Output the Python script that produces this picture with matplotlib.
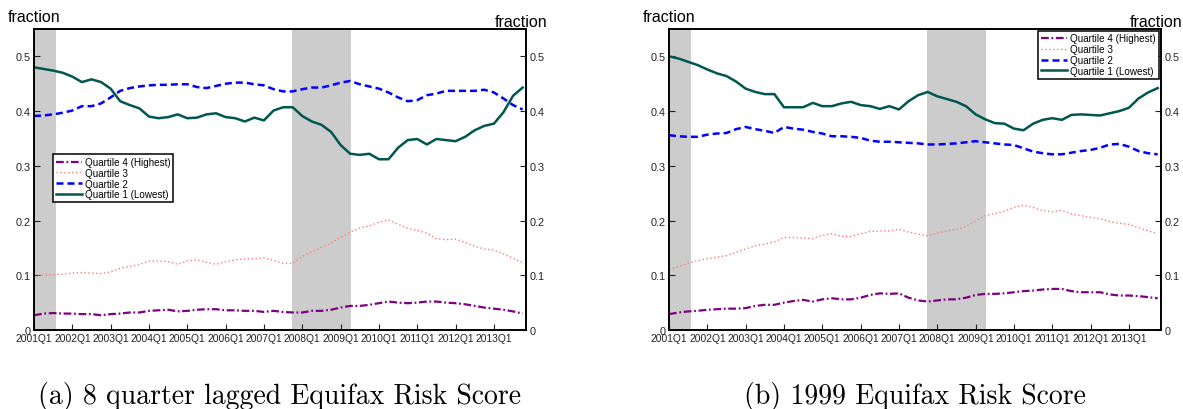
import matplotlib.pyplot as plt
import numpy as np

# quarterly fractions, 2001Q1 .. 2013Q4
years = list(range(2001, 2014))
tick_labels = [f"{y}Q1" for y in years]

# (a) 8 quarter lagged Equifax Risk Score
lag_q4 = [0.027, 0.030, 0.031, 0.030, 0.030, 0.029, 0.029, 0.027, 0.029, 0.030,
          0.032, 0.032, 0.035, 0.036, 0.037, 0.034, 0.035, 0.037, 0.038, 0.038,
          0.036, 0.036, 0.035, 0.035, 0.033, 0.035, 0.033, 0.032, 0.032, 0.035,
          0.035, 0.037, 0.041, 0.044, 0.044, 0.046, 0.049, 0.052, 0.050, 0.049,
          0.050, 0.052, 0.052, 0.050, 0.049, 0.047, 0.044, 0.041, 0.039, 0.037,
          0.034, 0.030]
lag_q3 = [0.100, 0.100, 0.101, 0.102, 0.104, 0.105, 0.104, 0.103, 0.106, 0.113,
          0.116, 0.120, 0.126, 0.126, 0.125, 0.120, 0.126, 0.128, 0.124, 0.120,
          0.125, 0.128, 0.130, 0.130, 0.132, 0.127, 0.122, 0.122, 0.134, 0.143,
          0.151, 0.159, 0.169, 0.179, 0.186, 0.190, 0.197, 0.201, 0.193, 0.186,
          0.182, 0.177, 0.167, 0.165, 0.166, 0.160, 0.153, 0.148, 0.146, 0.139,
          0.131, 0.123]
lag_q2 = [0.391, 0.392, 0.394, 0.397, 0.401, 0.409, 0.409, 0.414, 0.425, 0.437,
          0.442, 0.445, 0.447, 0.448, 0.448, 0.449, 0.449, 0.444, 0.442, 0.446,
          0.450, 0.452, 0.452, 0.449, 0.447, 0.440, 0.436, 0.436, 0.440, 0.443,
          0.443, 0.447, 0.452, 0.455, 0.449, 0.445, 0.441, 0.434, 0.425, 0.418,
          0.420, 0.429, 0.432, 0.437, 0.437, 0.437, 0.437, 0.439, 0.434, 0.423,
          0.411, 0.403]
lag_q1 = [0.480, 0.477, 0.474, 0.470, 0.463, 0.453, 0.458, 0.453, 0.441, 0.418,
          0.411, 0.405, 0.390, 0.387, 0.389, 0.394, 0.387, 0.388, 0.394, 0.396,
          0.389, 0.387, 0.381, 0.388, 0.383, 0.401, 0.407, 0.407, 0.391, 0.381,
          0.375, 0.362, 0.338, 0.322, 0.320, 0.322, 0.312, 0.312, 0.333, 0.347,
          0.349, 0.339, 0.349, 0.347, 0.345, 0.353, 0.365, 0.373, 0.377, 0.398,
          0.428, 0.443]

# (b) 1999 Equifax Risk Score
fix_q4 = [0.029, 0.032, 0.034, 0.035, 0.037, 0.038, 0.039, 0.039, 0.040, 0.044,
          0.046, 0.046, 0.050, 0.053, 0.055, 0.052, 0.056, 0.058, 0.056, 0.056,
          0.059, 0.064, 0.067, 0.066, 0.067, 0.059, 0.054, 0.052, 0.054, 0.056,
          0.056, 0.059, 0.064, 0.066, 0.066, 0.067, 0.069, 0.071, 0.072, 0.074,
          0.075, 0.075, 0.071, 0.069, 0.069, 0.069, 0.065, 0.063, 0.063, 0.062,
          0.060, 0.058]
fix_q3 = [0.111, 0.116, 0.122, 0.127, 0.130, 0.133, 0.136, 0.142, 0.148, 0.154,
          0.157, 0.161, 0.169, 0.169, 0.168, 0.167, 0.173, 0.176, 0.171, 0.171,
          0.176, 0.180, 0.181, 0.181, 0.184, 0.179, 0.175, 0.172, 0.177, 0.181,
          0.184, 0.189, 0.200, 0.209, 0.213, 0.217, 0.224, 0.228, 0.224, 0.218,
          0.216, 0.219, 0.212, 0.209, 0.206, 0.203, 0.198, 0.195, 0.193, 0.187,
          0.181, 0.176]
fix_q2 = [0.356, 0.354, 0.353, 0.353, 0.357, 0.359, 0.360, 0.367, 0.371, 0.367,
          0.364, 0.360, 0.371, 0.368, 0.366, 0.362, 0.359, 0.354, 0.354, 0.353,
          0.351, 0.346, 0.344, 0.344, 0.343, 0.342, 0.341, 0.339, 0.339, 0.340,
          0.341, 0.343, 0.345, 0.343, 0.341, 0.339, 0.338, 0.332, 0.326, 0.323,
          0.321, 0.321, 0.324, 0.327, 0.329, 0.333, 0.339, 0.340, 0.335, 0.327,
          0.323, 0.321]
fix_q1 = [0.500, 0.496, 0.490, 0.484, 0.476, 0.469, 0.464, 0.454, 0.441, 0.435,
          0.431, 0.431, 0.407, 0.407, 0.407, 0.415, 0.409, 0.409, 0.414, 0.417,
          0.411, 0.409, 0.404, 0.409, 0.403, 0.418, 0.429, 0.435, 0.427, 0.422,
          0.417, 0.409, 0.394, 0.385, 0.378, 0.377, 0.368, 0.365, 0.377, 0.384,
          0.387, 0.384, 0.393, 0.394, 0.393, 0.392, 0.396, 0.400, 0.406, 0.423,
          0.434, 0.442]

recessions = [(0.0, 2.3), (26.9, 33.1)]

SANS = ['Liberation Sans', 'DejaVu Sans']
SERIF = ['cmr10', 'DejaVu Serif']


def draw_panel(ax, q4, q3, q2, q1, legend_kw):
    x = np.arange(len(q1))
    for start, end in recessions:
        ax.axvspan(start, end, color='#cccccc', lw=0, zorder=0)
    ax.plot(x, q4, color='#800080', lw=1.6, ls=(0, (3.5, 1.2, 0.8, 1.2)),
            label='Quartile 4 (Highest)')
    ax.plot(x, q3, color='#ff7a7a', lw=1.0, ls=(0, (1, 1.8)), label='Quartile 3')
    ax.plot(x, q2, color='#0000ff', lw=1.8, ls=(0, (2.8, 1.6)), label='Quartile 2')
    ax.plot(x, q1, color='#00574f', lw=1.8, label='Quartile 1 (Lowest)')

    ax.set_xlim(0, 51.35)
    ax.set_ylim(0, 0.55)
    ax.set_xticks(np.arange(0, 49, 4))
    ax.set_xticklabels(tick_labels, family=SANS, fontsize=7.4)
    ax.set_yticks([0, 0.1, 0.2, 0.3, 0.4, 0.5])
    ax.set_yticklabels(['0', '0.1', '0.2', '0.3', '0.4', '0.5'], family=SANS, fontsize=7.8)
    ax.tick_params(axis='both', direction='in', length=4, width=0.8, colors='#222222',
                   pad=2.5)
    ax.tick_params(axis='y', right=True, labelright=True)
    for lab in ax.get_yticklabels(which='both'):
        lab.set_family(SANS)
    for spine in ax.spines.values():
        spine.set_linewidth(1.4)

    leg = ax.legend(prop={'family': SANS, 'size': 7.1}, frameon=True, fancybox=False,
                    edgecolor='black', framealpha=1, handlelength=2.7,
                    handletextpad=0.25, labelspacing=0.08, borderpad=0.3,
                    **legend_kw)
    leg.get_frame().set_linewidth(1.1)


fig = plt.figure(figsize=(11.83, 4.10), dpi=100)
W, H = 1183, 410

ax_a = fig.add_axes([34 / W, 79 / H, 492 / W, 301 / H])
draw_panel(ax_a, lag_q4, lag_q3, lag_q2, lag_q1,
           dict(loc='lower left', bbox_to_anchor=(0.038, 0.424), borderaxespad=0))
ax_b = fig.add_axes([669 / W, 79 / H, 492 / W, 301 / H])
draw_panel(ax_b, fix_q4, fix_q3, fix_q2, fix_q1,
           dict(loc='upper right', bbox_to_anchor=(0.995, 0.995), borderaxespad=0))

# axis unit labels
for xl, ha, base in [(8, 'left', 21.7), (547, 'right', 26.7),
                     (643, 'left', 21.7), (1182, 'right', 26.7)]:
    fig.text(xl / W, 1 - base / H, 'fraction', ha=ha, va='baseline',
             family=SANS, fontsize=11.5)

fig.text(280 / W, 1 - 397 / H, '(a) 8 quarter lagged Equifax Risk Score',
         ha='center', va='center', family=SERIF, fontsize=20)
fig.text(915 / W, 1 - 397 / H, '(b) 1999 Equifax Risk Score',
         ha='center', va='center', family=SERIF, fontsize=20)

fig.savefig('out.png', dpi=100)
